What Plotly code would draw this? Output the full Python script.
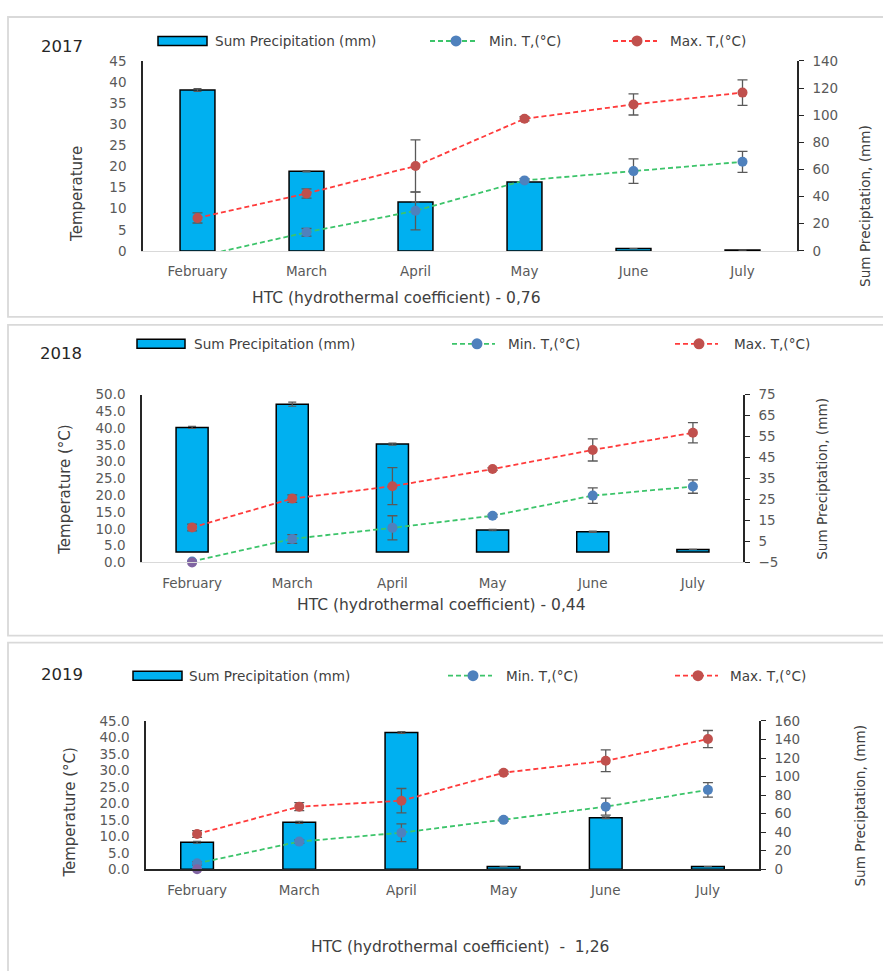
import plotly.graph_objects as go

W, H = 883, 971
# vertical placement calibration of the rendered page
Y_OFF, Y_SCALE = 6.0, 0.984
FONT = "DejaVu Sans"

months = ["February", "March", "April", "May", "June", "July"]

# 2017
prec_2017 = [118.6, 58.7, 36.1, 50.8, 1.7, 0.6]
prec_err_2017 = [1.0, 0.5, 0.0, 0.0, 0.0, 0.0]
tmin_2017 = [-1.4, 4.4, 9.5, 16.7, 18.9, 21.1]
tmin_err_2017 = [0.0, 0.9, 4.5, 0.4, 2.9, 2.5]
tmax_2017 = [7.8, 13.6, 20.1, 31.3, 34.7, 37.5]
tmax_err_2017 = [1.2, 1.1, 6.2, 0.5, 2.5, 3.0]

# 2018
prec_2018 = [59.3, 70.4, 51.4, 10.4, 9.6, 1.2]
prec_err_2018 = [0.5, 1.0, 0.5, 0.3, 0.3, 0.0]
tmin_2018 = [0.3, 7.0, 10.3, 13.9, 19.9, 22.6]
tmin_err_2018 = [0.0, 1.3, 3.6, 0.4, 2.3, 2.0]
tmax_2018 = [10.4, 19.0, 22.7, 27.8, 33.5, 38.6]
tmax_err_2018 = [1.0, 1.1, 5.5, 0.4, 3.3, 3.0]
point_2018 = [0.0, None, None, None, None, None]

# 2019
prec_2019 = [29.1, 50.6, 147.5, 2.9, 55.6, 2.9]
prec_err_2019 = [1.0, 1.0, 1.0, 0.0, 1.0, 0.0]
tmin_2019 = [1.8, 8.4, 11.1, 15.0, 19.0, 24.1]
tmin_err_2019 = [0.5, 0.5, 2.7, 0.4, 2.6, 2.2]
tmax_2019 = [10.7, 19.0, 20.8, 29.3, 32.9, 39.5]
tmax_err_2019 = [1.0, 1.2, 3.7, 0.4, 3.3, 2.6]
point_2019 = [0.0, None, None, None, None, None]

htc_labels = ["HTC (hydrothermal coefficient) - 0,76",
              "HTC (hydrothermal coefficient) - 0,44",
              "HTC (hydrothermal coefficient)  -  1,26"]
years = ["2017", "2018", "2019"]

BAR_FILL = "#00b0f0"
GREEN = "#3cc46a"
RED = "#ff3b3b"
BLUE_M = "#4f81bd"
RED_M = "#c0504d"
PURPLE = "#8064a2"
AXIS = "#262626"
TICK = "#595959"
TITLE = "#404040"
ERR = "#595959"
DASH = "5px,3px"


def fx(px):
    return px / W


def fy(py):
    return 1 - (py - Y_OFF) / (Y_SCALE * H)


fig = go.Figure()

panels = [
    dict(prec=prec_2017, perr=prec_err_2017, tmin=tmin_2017, tmin_e=tmin_err_2017,
         tmax=tmax_2017, tmax_e=tmax_err_2017, point=None,
         x0=143, x1=797, ytop=59, ybot=249,
         prange=[0, 140], pdtick=20, ptick0=0, trange=[0, 45], tdtick=5, tfmt="d",
         xbase="#d9d9d9"),
    dict(prec=prec_2018, perr=prec_err_2018, tmin=tmin_2018, tmin_e=tmin_err_2018,
         tmax=tmax_2018, tmax_e=tmax_err_2018, point=point_2018,
         x0=142, x1=743, ytop=392.7, ybot=560.7,
         prange=[-5, 75], pdtick=10, ptick0=-5, trange=[0, 50], tdtick=5, tfmt=".1f",
         xbase="#d9d9d9"),
    dict(prec=prec_2019, perr=prec_err_2019, tmin=tmin_2019, tmin_e=tmin_err_2019,
         tmax=tmax_2019, tmax_e=tmax_err_2019, point=point_2019,
         x0=146, x1=759, ytop=719.3, ybot=867.7,
         prange=[0, 160], pdtick=20, ptick0=0, trange=[0, 45], tdtick=5, tfmt=".1f",
         xbase=AXIS),
]

tickfont = dict(family=FONT, size=13.5, color=TICK)

for i, p in enumerate(panels):
    xn = "x" if i == 0 else f"x{i + 1}"
    yp = "y" if i == 0 else f"y{2 * i + 1}"
    yt = f"y{2 * i + 2}"
    xkey = "xaxis" if i == 0 else f"xaxis{i + 1}"
    ypkey = "yaxis" if i == 0 else f"yaxis{2 * i + 1}"
    ytkey = f"yaxis{2 * i + 2}"

    fig.add_trace(go.Bar(
        x=months, y=p["prec"], width=0.32, xaxis=xn, yaxis=yp,
        marker=dict(color=BAR_FILL, line=dict(color="#000000", width=1.5)),
        error_y=dict(type="data", array=p["perr"], color=ERR, thickness=1.2, width=4),
        showlegend=False, name="Sum Precipitation (mm)"))

    fig.add_trace(go.Scatter(
        x=months, y=p["tmin"], xaxis=xn, yaxis=yt, mode="lines+markers",
        line=dict(color=GREEN, width=1.8, dash=DASH),
        marker=dict(color=BLUE_M, size=10),
        error_y=dict(type="data", array=p["tmin_e"], color=ERR, thickness=1.3, width=5),
        showlegend=False, name="Min. T,(°C)"))

    fig.add_trace(go.Scatter(
        x=months, y=p["tmax"], xaxis=xn, yaxis=yt, mode="lines+markers",
        line=dict(color=RED, width=1.8, dash=DASH),
        marker=dict(color=RED_M, size=10),
        error_y=dict(type="data", array=p["tmax_e"], color=ERR, thickness=1.3, width=5),
        showlegend=False, name="Max. T,(°C)"))

    if p["point"] is not None:
        fig.add_trace(go.Scatter(
            x=months, y=p["point"], xaxis=xn, yaxis=yt, mode="markers",
            marker=dict(color=PURPLE, size=10), cliponaxis=False,
            showlegend=False, hoverinfo="skip"))

    dom_x = [fx(p["x0"]), fx(p["x1"])]
    dom_y = [fy(p["ybot"]), fy(p["ytop"])]

    fig.layout[xkey] = dict(
        domain=dom_x, anchor=yp, type="category", range=[-0.5, 5.5],
        showline=True, linecolor=p["xbase"], linewidth=1.5 if i == 2 else 1.2,
        ticks="", showgrid=False, zeroline=False, tickfont=tickfont,
        ticklabelstandoff=8, fixedrange=True)
    fig.layout[ypkey] = dict(
        domain=dom_y, anchor=xn, side="right", range=p["prange"],
        tick0=p["ptick0"], dtick=p["pdtick"], showline=True, linecolor=AXIS,
        linewidth=1.5, ticks="outside", ticklen=5, tickwidth=1.3, tickcolor=AXIS,
        showgrid=False, zeroline=False, tickfont=tickfont, ticklabelstandoff=6)
    fig.layout[ytkey] = dict(
        overlaying=yp, anchor=xn, side="left", range=p["trange"],
        dtick=p["tdtick"], tickformat=p["tfmt"], showline=True, linecolor=AXIS,
        linewidth=1.5, ticks="", showgrid=False, zeroline=False,
        tickfont=tickfont, ticklabelstandoff=12)

shapes = []
annotations = []


def text(x, y, s, size, color=TITLE, anchor="left", angle=0):
    annotations.append(dict(
        x=fx(x), y=fy(y), xref="paper", yref="paper", text=s, showarrow=False,
        xanchor=anchor, yanchor="middle", textangle=angle,
        font=dict(family=FONT, size=size, color=color)))


# panel frames
for y0, y1 in [(15, 315), (323, 634), (641, 1000)]:
    shapes.append(dict(type="rect", xref="paper", yref="paper",
                       x0=fx(8), x1=fx(900), y0=fy(y1), y1=fy(y0),
                       line=dict(color="#d9d9d9", width=1.8), layer="below"))

# legends
legend_pos = [
    dict(y=39, sw=(158, 207), bt=213, mn=(430, 475, 456), mt=487, mx=(613, 657, 637), xt=668),
    dict(y=342, sw=(137, 185), bt=192, mn=(452, 495, 477), mt=506, mx=(675, 718, 699), xt=732),
    dict(y=674, sw=(133, 182), bt=187, mn=(448, 492, 473), mt=504, mx=(675, 718, 698), xt=728),
]
for lg in legend_pos:
    y = lg["y"]
    shapes.append(dict(type="rect", xref="paper", yref="paper",
                       x0=fx(lg["sw"][0]), x1=fx(lg["sw"][1]), y0=fy(y + 4.5), y1=fy(y - 4.5),
                       fillcolor=BAR_FILL, line=dict(color="#000000", width=1.5)))
    text(lg["bt"], y, "Sum Precipitation (mm)", 13.6)
    for (a, b, m), lc, mc, tx, label in [(lg["mn"], GREEN, BLUE_M, lg["mt"], "Min. T,(°C)"),
                                          (lg["mx"], RED, RED_M, lg["xt"], "Max. T,(°C)")]:
        shapes.append(dict(type="line", xref="paper", yref="paper",
                           x0=fx(a), x1=fx(b), y0=fy(y), y1=fy(y),
                           line=dict(color=lc, width=1.8, dash=DASH)))
        shapes.append(dict(type="circle", xref="paper", yref="paper",
                           x0=fx(m - 5.5), x1=fx(m + 5.5), y0=fy(y + 5.5), y1=fy(y - 5.5),
                           fillcolor=mc, line=dict(color=mc, width=0)))
        text(tx, y, label, 13.6)

# year labels
for yr, (x, y) in zip(years, [(62, 45), (61, 352), (62, 673)]):
    text(x, y, yr, 16.5, color="#262626", anchor="center")

# HTC captions
for lbl, (x, y) in zip(htc_labels, [(396, 296), (442, 603), (460, 945)]):
    text(x, y, lbl, 15.5, anchor="center")

# axis titles
for s, (x, y) in zip(["Temperature", "Temperature (°C)", "Temperature (°C)"],
                     [(77, 192), (65, 488), (70, 811)]):
    text(x, y, s, 15, anchor="center", angle=-90)
for x, y in [(865, 204), (822, 477), (860, 804)]:
    text(x, y, "Sum Preciptation, (mm)", 13.6, anchor="center", angle=-90)

fig.update_layout(
    width=W, height=H, autosize=False,
    margin=dict(l=0, r=0, t=0, b=0),
    paper_bgcolor="white", plot_bgcolor="rgba(0,0,0,0)",
    shapes=shapes, annotations=annotations, showlegend=False,
    font=dict(family=FONT),
)

fig.write_html("out.html")
